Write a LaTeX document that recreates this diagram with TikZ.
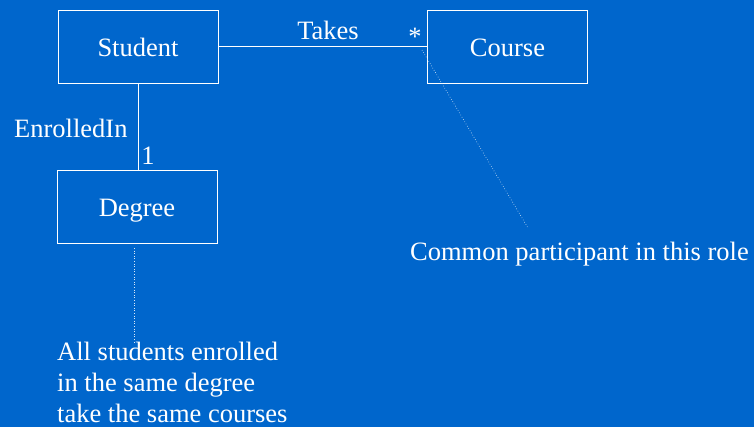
\documentclass[tikz,border=0pt]{standalone}
\usepackage{fontspec}
\setmainfont{Liberation Serif}
\definecolor{bg}{RGB}{0,102,204}
\begin{document}
\begin{tikzpicture}[x=1pt,y=-1pt,
  txt/.style={text=white,font=\fontsize{26.5}{31}\selectfont},
  cls/.style={txt,draw=white,line width=0.9pt,minimum width=160pt,minimum height=73pt,inner sep=0pt,text height=20pt,text depth=0pt},
  lbl/.style={txt,inner sep=0pt},
  assoc/.style={draw=white,line width=0.9pt},
  note/.style={draw=white!85!bg,line width=0.6pt,dotted}]
  \fill[bg] (0,0) rectangle (754,427);
  \useasboundingbox (0,0) rectangle (754,427);
  % classes
  \node[cls] (student) at (138,46.5) {Student};
  \node[cls] (course) at (507.5,46.5) {Course};
  \node[cls] (degree) at (137,207) {Degree};
  % associations
  \draw[assoc] (student.east) -- (course.west);
  \draw[assoc] (student.south) -- (student.south |- degree.north);
  \node[lbl,anchor=base] (takes) at (328,40) {Takes};
  \node[lbl,anchor=base] (star) at (415,45.5) {*};
  \node[lbl,anchor=base west] (enr) at (14,137.5) {EnrolledIn};
  \node[lbl,anchor=base] (one) at (148,164.5) {1};
  % notes
  \node[lbl,anchor=base west] (common) at (410,260.5) {Common participant in this role};
  \node[lbl,anchor=north west,align=left] (allnote) at (57,341.5)
    {All students enrolled\\in the same degree\\take the same courses};
  \coordinate (c1) at (422,50);
  \coordinate (c2) at (528,228);
  \draw[note] (c1) -- (c2);
  \coordinate (d1) at (134,248);
  \coordinate (d2) at (134,342);
  \draw[note] (d1) -- (d2);
\end{tikzpicture}
\end{document}
